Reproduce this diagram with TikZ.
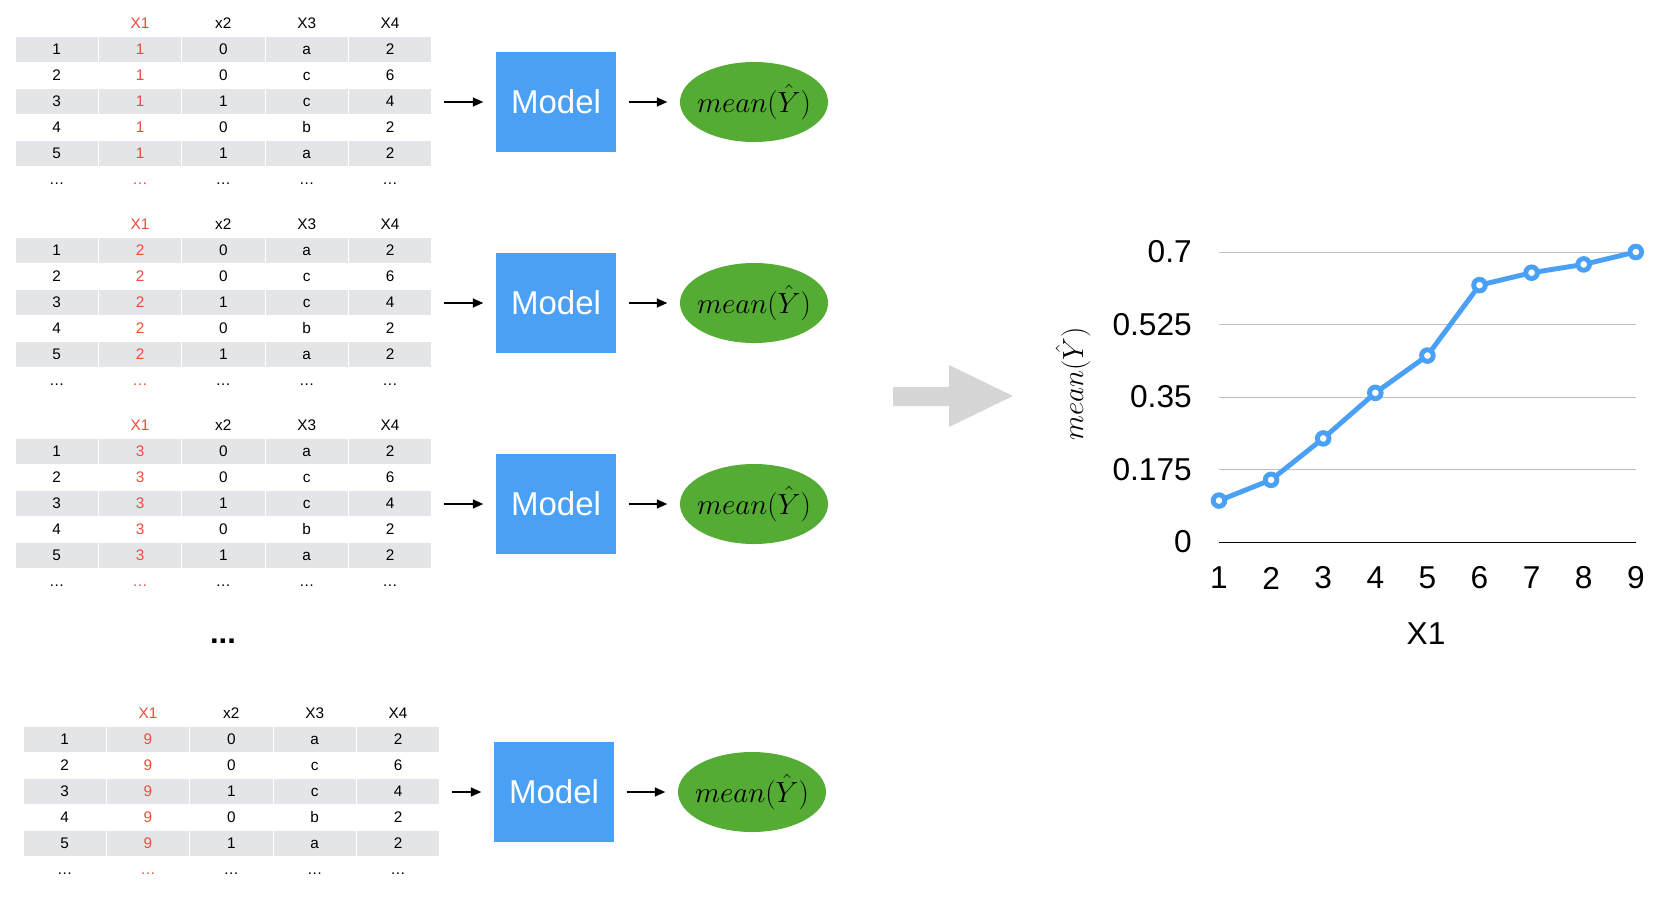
\documentclass[tikz,border=0pt]{standalone}
\usepackage{fontspec}
\setmainfont{Liberation Sans}
\usepackage{amsmath}
\usetikzlibrary{arrows.meta, positioning, shapes.geometric, calc}
\definecolor{rowgray}{RGB}{228,229,233}
\definecolor{xred}{RGB}{233,77,60}
\definecolor{modelblue}{RGB}{74,160,245}
\definecolor{meangreen}{RGB}{85,172,52}
\definecolor{gridgray}{RGB}{192,192,192}
\definecolor{bigarrow}{RGB}{214,214,214}
\tikzset{
  cell/.style={rectangle, minimum width=2.083cm, minimum height=0.65cm, inner sep=0pt, outer sep=0pt,
    draw=white, line width=0.5pt, text height=0.72em, text depth=0pt, font=\fontsize{10.9}{12}\selectfont},
  modelbox/.style={rectangle, fill=modelblue, minimum width=3cm, minimum height=2.5cm, text=white,
    font=\fontsize{23.5}{26}\selectfont},
  meanbox/.style={ellipse, fill=meangreen, minimum width=3.7cm, minimum height=2cm, inner sep=0pt,
    font=\fontsize{19.5}{22}\selectfont},
  feed/.style={-{Triangle[length=2.6mm, width=2.2mm]}, line width=1.3pt, shorten <=0.31cm, shorten >=0.31cm},
  gridline/.style={gridgray, line width=0.7pt},
  meanline/.style={modelblue, line width=3.5pt, line join=round},
  ptdot/.style={circle, draw=modelblue, fill=white, line width=3.5pt, minimum size=0.29cm, inner sep=0pt},
  ticklabel/.style={inner sep=0pt, font=\fontsize{22.5}{26}\selectfont},
}

\begin{document}
\begin{tikzpicture}[x=0.025cm, y=-0.025cm]
  \useasboundingbox (0,0) rectangle (1660,896);

  % tables, models and means
  \foreach \tab/\xval/\dx/\dy/\mx in {1/1/0/0/556, 2/2/0/201/556, 3/3/0/402/556, 4/9/8/690/554} {
    \foreach \col/\head/\hc in {2/X1/xred, 3/x2/black, 4/X3/black, 5/X4/black}
      \node[cell, text=\hc] (t\tab-h\col) at ({\dx+83.33*\col-26.67},{\dy+23}) {\head};
    \foreach \row/\xtwo/\xthree/\xfour/\bg in {1/0/a/2/rowgray, 2/0/c/6/white, 3/1/c/4/rowgray, 4/0/b/2/white, 5/1/a/2/rowgray} {
      \node[cell, fill=\bg] (t\tab-r\row-c1) at ({\dx+56.67},{\dy+23+26*\row}) {\row};
      \node[cell, fill=\bg, text=xred, right=0pt of t\tab-r\row-c1] (t\tab-r\row-c2) {\xval};
      \node[cell, fill=\bg, right=0pt of t\tab-r\row-c2] (t\tab-r\row-c3) {\xtwo};
      \node[cell, fill=\bg, right=0pt of t\tab-r\row-c3] (t\tab-r\row-c4) {\xthree};
      \node[cell, fill=\bg, right=0pt of t\tab-r\row-c4] (t\tab-r\row-c5) {\xfour};
    }
    \node[cell] (t\tab-r6-c1) at ({\dx+56.67},{\dy+179}) {\dots};
    \node[cell, text=xred, right=0pt of t\tab-r6-c1] (t\tab-r6-c2) {\dots};
    \node[cell, right=0pt of t\tab-r6-c2] (t\tab-r6-c3) {\dots};
    \node[cell, right=0pt of t\tab-r6-c3] (t\tab-r6-c4) {\dots};
    \node[cell, right=0pt of t\tab-r6-c4] (t\tab-r6-c5) {\dots};

    \coordinate (t\tab-out) at ({\dx+432},{\dy+102});
    \node[modelbox] (model\tab) at ({\mx},{\dy+102}) {Model};
    \node[meanbox] (mean\tab) at ({\mx+198},{\dy+102}) {\makebox[0pt]{$mean(\hat{Y})$}};
    \draw[feed] (t\tab-out) -- (model\tab);
    \draw[feed] (model\tab) -- (mean\tab);
  }
  \node[anchor=base, font=\fontsize{22}{26}\selectfont\bfseries] (gap) at (223,643) {...};

  % big arrow
  \fill[bigarrow] (893,387) -- (949,387) -- (949,365) -- (1013,396) -- (949,427) -- (949,406) -- (893,406) -- cycle;

  % chart
  \foreach \v in {0.175, 0.35, 0.525, 0.7}
    \draw[gridline] (1219,{542-414.3*\v}) -- (1636,{542-414.3*\v});
  \draw[black, line width=0.7pt] (1219,542) -- (1636,542);
  \foreach \i/\v in {1/0, 2/0.175, 3/0.35, 4/0.525, 5/0.7}
    \node[ticklabel, anchor=east] (ylab\i) at (1192,{542-414.3*\v}) {\v};
  \foreach \i/\v in {1/0.1, 2/0.15, 3/0.25, 4/0.36, 5/0.45, 6/0.62, 7/0.65, 8/0.67, 9/0.70} {
    \coordinate (p\i) at ({1219+52.1*(\i-1)},{542-414.3*\v});
    \node[ticklabel] (xlab\i) at ({1219+52.1*(\i-1)},578) {\i};
  }
  \draw[meanline] (p1) -- (p2) -- (p3) -- (p4) -- (p5) -- (p6) -- (p7) -- (p8) -- (p9);
  \foreach \i in {1,...,9}
    \node[ptdot] (m\i) at (p\i) {};
  \node[ticklabel] (xtitle) at (1426,634) {X1};
  \node[rotate=90, font=\fontsize{20}{24}\selectfont] (ytitle) at (1073,384) {$mean(\hat{Y})$};
\end{tikzpicture}
\end{document}
